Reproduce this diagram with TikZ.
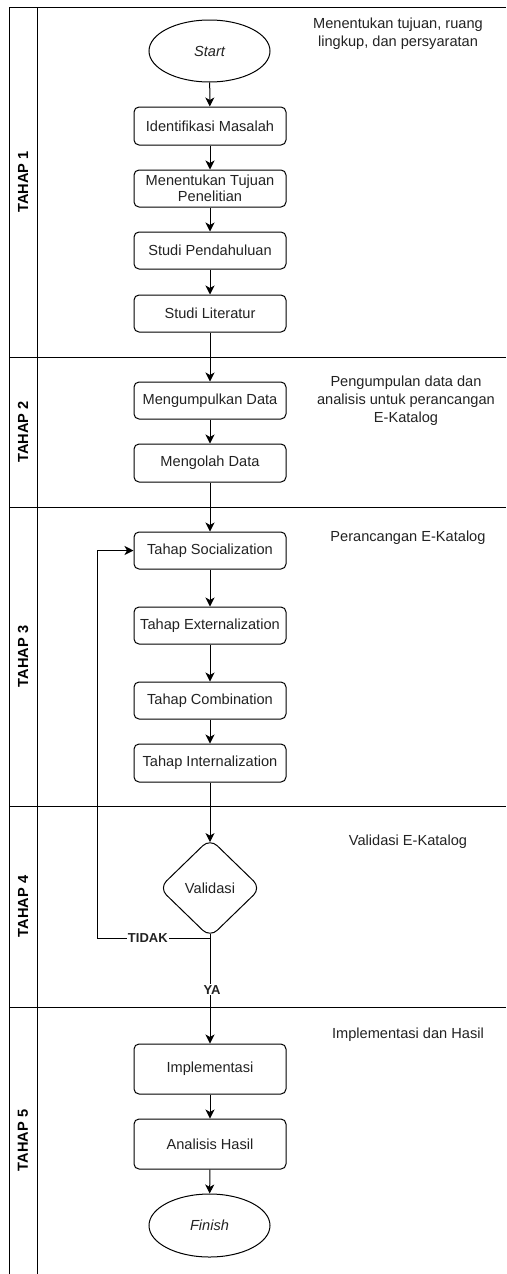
\documentclass[tikz,border=0pt]{standalone}
\usepackage{fontspec}
\setmainfont{Liberation Sans}
\usetikzlibrary{shapes.geometric,arrows.meta}
\definecolor{txt}{HTML}{222222}
\tikzset{
  lane/.style={line width=1pt, draw=black},
  procbox/.style={draw, line width=1pt, rounded corners=5pt, minimum width=152pt, inner sep=1pt, align=center, font=\fontsize{14.6}{16.5}\selectfont, text=txt},
  term/.style={draw, line width=1pt, ellipse, minimum width=121pt, minimum height=62pt, inner sep=0pt, font=\fontsize{14.6}{16.5}\selectfont\itshape, text=txt},
  decis/.style={draw, line width=1pt, diamond, rounded corners=10pt, minimum width=102pt, minimum height=99pt, inner sep=0pt, font=\fontsize{14.6}{16.5}\selectfont, text=txt},
  lanelab/.style={rotate=90, font=\fontsize{14.6}{16.5}\selectfont\bfseries, text=black},
  note/.style={align=center, font=\fontsize{14.6}{18}\selectfont, text=txt},
  edgelab/.style={fill=white, inner sep=1pt, font=\fontsize{13}{14}\selectfont\bfseries, text=txt},
  arr/.style={line width=1pt, -{Stealth[length=9pt,width=9pt,inset=2.5pt]}},
  plain/.style={line width=1pt}
}
\begin{document}
\begin{tikzpicture}[x=1pt,y=-1pt]
\useasboundingbox (0,0) rectangle (506,1274);
% swimlane frame
\draw[lane] (9,1274) -- (9,7) -- (506,7);
\draw[lane] (37,7) -- (37,1274);
\draw[lane] (9,357) -- (506,357);
\draw[lane] (9,507) -- (506,507);
\draw[lane] (9,806) -- (506,806);
\draw[lane] (9,1007) -- (506,1007);
% lane labels
\node[lanelab] (t1) at (23,182) {TAHAP 1};
\node[lanelab] (t2) at (23,432) {TAHAP 2};
\node[lanelab] (t3) at (23,656.5) {TAHAP 3};
\node[lanelab] (t4) at (23,906.5) {TAHAP 4};
\node[lanelab] (t5) at (23,1140.5) {TAHAP 5};
% notes
\node[note] (n1) at (398,34) {Menentukan tujuan, ruang\\lingkup, dan persyaratan};
\node[note] (n2) at (406,401) {Pengumpulan data dan\\analisis untuk perancangan\\E-Katalog};
\node[note] (n3) at (408,538) {Perancangan E-Katalog};
\node[note] (n4) at (408,842) {Validasi E-Katalog};
\node[note] (n5) at (408,1035) {Implementasi dan Hasil};
% nodes
\node[term] (start) at (209.5,51) {Start};
\node[procbox, minimum height=38pt] (idm) at (210,126) {Identifikasi Masalah};
\node[procbox, minimum height=37pt] (tuj) at (210,188.5) {Menentukan Tujuan\\Penelitian};
\node[procbox, minimum height=37pt] (pen) at (210,250.5) {Studi Pendahuluan};
\node[procbox, minimum height=37pt] (lit) at (210,313.5) {Studi Literatur};
\node[procbox, minimum height=37pt] (kum) at (210,400.5) {Mengumpulkan Data};
\node[procbox, minimum height=38pt] (olah) at (210,463) {Mengolah Data};
\node[procbox, minimum height=37pt] (soc) at (210,550.5) {Tahap Socialization};
\node[procbox, minimum height=37pt] (ext) at (210,625.5) {Tahap Externalization};
\node[procbox, minimum height=37pt] (com) at (210,700.5) {Tahap Combination};
\node[procbox, minimum height=38pt] (int) at (210,763) {Tahap Internalization};
\node[decis] (val) at (210,888) {Validasi};
\node[procbox, minimum height=50pt] (imp) at (210,1069) {Implementasi};
\node[procbox, minimum height=50pt] (ana) at (210,1144) {Analisis Hasil};
\node[term, minimum height=63pt] (fin) at (209.5,1225.5) {Finish};
\coordinate (vt) at ([yshift=-4.1pt]val.north);
\coordinate (vb) at ([yshift=4.1pt]val.south);
\coordinate (turn) at (210,938);
\coordinate (back) at (97,938);
% connectors
\draw[arr] (start) -- (idm);
\draw[arr] (idm) -- (tuj);
\draw[arr] (tuj) -- (pen);
\draw[arr] (pen) -- (lit);
\draw[arr] (lit) -- (kum);
\draw[arr] (kum) -- (olah);
\draw[arr] (olah) -- (soc);
\draw[arr] (soc) -- (ext);
\draw[arr] (ext) -- (com);
\draw[arr] (com) -- (int);
\draw[arr] (int.south) -- (vt);
\draw[arr] (vb) -- (turn) -- node[edgelab, pos=0.55] (tidak) {TIDAK} (back) |- (soc.west);
\draw[arr] (vb) -- node[edgelab, pos=0.51, xshift=2pt] (ya) {YA} (imp.north);
\draw[arr] (imp) -- (ana);
\draw[arr] (ana) -- (fin);
\end{tikzpicture}
\end{document}
